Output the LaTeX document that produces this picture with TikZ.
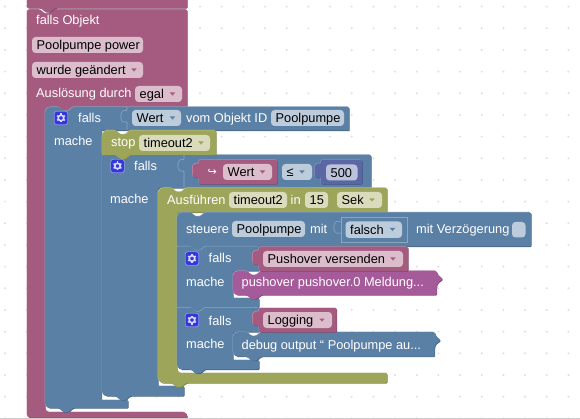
\documentclass[tikz,border=0pt]{standalone}
\usepackage{fontspec}
\setmainfont{Liberation Sans}
\newfontfamily\symfont{DejaVu Sans}
\definecolor{pk}{HTML}{A55B80}\definecolor{pkdk}{HTML}{7E4562}\definecolor{pklt}{HTML}{C58FAA}\definecolor{pkf}{HTML}{DBBDCC}
\definecolor{bl}{HTML}{5B80A5}\definecolor{bldk}{HTML}{466481}\definecolor{bllt}{HTML}{8DA6C0}\definecolor{blf}{HTML}{BDCCDB}
\definecolor{ol}{HTML}{9DA55B}\definecolor{oldk}{HTML}{7C8348}\definecolor{ollt}{HTML}{BDC28D}\definecolor{olf}{HTML}{DADBBD}
\definecolor{indg}{HTML}{5B67A5}\definecolor{indgdk}{HTML}{454F82}\definecolor{indglt}{HTML}{8D95C0}\definecolor{indgf}{HTML}{BDC2DB}
\definecolor{pu}{HTML}{A55B99}\definecolor{pudk}{HTML}{824779}\definecolor{pult}{HTML}{C28DB8}
\definecolor{dotc}{HTML}{DEDEDE}\definecolor{icon}{HTML}{3338D8}\definecolor{iconlt}{HTML}{8D95E8}
\tikzset{
  lbl/.style={inner sep=0pt,anchor=base west,font=\fontsize{12.8}{15}\selectfont,text=white},
  fldtext/.style={lbl,text=black},
  sockline/.style={draw=bllt,line width=.6pt,rounded corners=1pt},
}
% block with bevel: colour name, path
\newcommand\blk[2]{%
  \fill[#1dk,rounded corners=1.2pt,shift={(.7,.7)}] #2;
  \fill[#1lt,rounded corners=1.2pt,shift={(-.5,-.5)}] #2;
  \fill[#1,rounded corners=1.2pt] #2;}
\newcommand\nr{-- ++(4.5,4) -- ++(5,0) -- ++(4.5,-4)}
\newcommand\nl{-- ++(-4.5,4) -- ++(-5,0) -- ++(-4.5,-4)}
% value block with a tab on its left side: colour,x1,x2,y1,y2
\newcommand\vblk[5]{\blk{#1}{({#2},{#4}) -- ({#3},{#4}) -- ({#3},{#5}) -- ({#2},{#5}) -- ({#2},{#5-7}) -- ({#2-3},{#5-6}) -- ({#2-6.5},{#5-8}) -- ({#2-6.5},{#4+6}) -- ({#2-3},{#4+3}) -- ({#2},{#4+4}) -- cycle}}
% field: name,fill,x1,x2,y1,y2,text
\newcommand\fld[7]{\fill[#2,rounded corners=3.5pt] ({#3},{#5}) rectangle ({#4},{#6});
  \node[fldtext] (#1) at ({#3+4.5},{#6-3.2}) {#7};}
\newcommand\drop[3]{\fill[#3] ({#1-2.7},{#2-1.5}) -- ({#1+2.7},{#2-1.5}) -- ({#1},{#2+1.6}) -- cycle;}
\newcommand\wt[4]{\node[lbl] (#1) at (#2,#3) {#4};}
\newcommand\gear[2]{\fill[iconlt,rounded corners=3pt] ({#1-7.2},{#2-7.2}) rectangle ({#1+7.2},{#2+7.2});
  \fill[icon,rounded corners=2.6pt] ({#1-6.4},{#2-6.4}) rectangle ({#1+6.4},{#2+6.4});
  \draw[white!85!blue,line width=1.6pt] (#1,#2) circle (2.8);
  \foreach \a in {30,90,...,330}{\draw[white!85!blue,line width=1.5pt] ({#1+3*cos(\a)},{#2+3*sin(\a)}) -- ({#1+4.5*cos(\a)},{#2+4.5*sin(\a)});}}
\newcommand\sock[4]{\draw[sockline] (#1,#2) -- (#1,{#3}) -- ({#1-3},{#3-1}) -- ({#1-6},{#3+2}) -- ({#1-6},{#3+9}) -- ({#1-3},{#3+11.5}) -- (#1,{#3+10.5}) -- (#1,#4);}
\begin{document}
\begin{tikzpicture}[x=1pt,y=-1pt]
\clip (0,0) rectangle (580,419);
\fill[white] (0,0) rectangle (580,419);
\foreach \i in {0,...,26}{\foreach \j in {0,...,19}{\fill[dotc] ({5+21.67*\i},{6.6+21.67*\j}) circle (1.1);}}
% outer event block
\blk{pk}{(27,9.5) -- (40,9.5) \nr -- (187,9.5) [sharp corners] -- (187,113) -- (45,113) [rounded corners=4pt] -- (45,412) -- (187,412) [sharp corners] -- (187,417.5) [rounded corners=3pt] -- (27,417.5) -- cycle}
\blk{pk}{(27,-4) -- (187,-4) -- (187,8) -- (55,8) \nl -- (27,8) -- cycle}
\draw[black!20,line width=1pt] (0,418.2) -- (580,418.2);
% falls Wert
\blk{bl}{(45,120) [rounded corners=6pt] -- (45,107) [rounded corners=1.2pt] -- (59,107) \nr -- (349,107) [sharp corners] -- (349,130.5) -- (101.5,130.5) [rounded corners=1pt] -- (101.5,400) -- (128,400) -- (128,408) -- (73,408) \nl -- (50,408) [rounded corners=5pt] -- (45,408) -- cycle}
% falls <= 500
\blk{bl}{(102,155) -- (116,155) \nr -- (371,155) -- (371,188) -- (158,188) -- (158,386) -- (184,386) -- (184,396) -- (130,396) \nl -- (108,396) [rounded corners=5pt] -- (102,396) [rounded corners=1pt] -- cycle}
% stop
\blk{ol}{(102,140) [rounded corners=6pt] -- (102,130.5) [rounded corners=1.2pt] -- (116,130.5) \nr -- (216,130.5) -- (216,155) -- (130,155) \nl -- (102,155) -- cycle}
% Ausfuehren
\blk{ol}{(158,200) [rounded corners=6pt] -- (158,188) [rounded corners=1.2pt] -- (172,188) \nr -- (387,188) -- (387,212.5) -- (177,212.5) [rounded corners=4pt] -- (177,373) [rounded corners=1.2pt] -- (387,373) -- (387,383) -- (186,383) \nl -- (164,383) [rounded corners=6pt] -- (158,383) [rounded corners=1.2pt] -- cycle}
% steuere
\blk{bl}{(177,220) [rounded corners=5pt] -- (177,212.5) [rounded corners=1.2pt] -- (191,212.5) \nr -- (531,212.5) -- (531,246.5) -- (205,246.5) \nl -- (177,246.5) -- cycle}
% falls Pushover
\blk{bl}{(177,246.5) -- (191,246.5) \nr -- (259,246.5) -- (259,271) -- (233,271) -- (233,298) -- (259,298) -- (259,307.5) -- (205,307.5) \nl -- (177,307.5) -- cycle}
% falls Logging
\blk{bl}{(177,307.5) -- (191,307.5) \nr -- (259,307.5) -- (259,332) -- (233,332) -- (233,360) -- (259,360) -- (259,369.3) -- (205,369.3) \nl -- (182,369.3) [rounded corners=5pt] -- (177,369.3) [rounded corners=1.2pt] -- cycle}
% statements with right tab
\blk{pu}{(233,280) [rounded corners=5pt] -- (233,271) [rounded corners=1.2pt] -- (247,271) \nr -- (436.5,271) -- (437.5,274.5) -- (442.8,279) -- (437.5,283) -- (436.5,286) -- (436.5,295) -- (261,295) \nl -- (238,295) [rounded corners=5pt] -- (233,295) [rounded corners=1.2pt] -- cycle}
\blk{bl}{(233,340) [rounded corners=5pt] -- (233,332) [rounded corners=1.2pt] -- (247,332) \nr -- (434.5,332) -- (435.5,335.5) -- (440.5,340.5) -- (435.5,344) -- (434.5,347) -- (434.5,356.5) -- (261,356.5) \nl -- (238,356.5) [rounded corners=5pt] -- (233,356.5) [rounded corners=1.2pt] -- cycle}
% sockets
\sock{127}{107}{111}{130}
\sock{184}{155}{160}{188}
\draw[sockline,sharp corners] (341,217.5) rectangle (407,242.7);
\draw[sockline] (341,222) -- (337,221) -- (334,223.5) -- (334,231) -- (337,233.5) -- (341,233);
% value blocks
\vblk{pk}{199}{277}{160}{184}
\vblk{indg}{321}{362}{160}{184}
\vblk{pk}{259}{408}{247}{271}
\vblk{pk}{259}{336.5}{308}{332}
% icons
\gear{61}{118}
\gear{117.5}{166}
\gear{192}{258.5}
\gear{192}{320}
% texts on blocks
\wt{t1}{36}{25}{falls Objekt}
\wt{t2}{36}{98}{Auslösung durch}
\wt{t3}{78}{123}{falls}
\wt{t4}{54}{146}{mache}
\wt{t5}{186}{123}{vom Objekt ID}
\wt{t6}{111}{147}{stop}
\wt{t7}{134}{171}{falls}
\wt{t8}{110}{204}{mache}
\wt{t9}{167}{205}{Ausführen}
\wt{t10}{290.5}{205}{in}
\wt{t11}{186}{234}{steuere}
\wt{t12}{310}{234}{mit}
\wt{t13}{416}{234}{mit Verzögerung}
\wt{t14}{208.5}{263}{falls}
\wt{t15}{186}{287}{mache}
\wt{t16}{241.5}{287}{pushover pushover.0 Meldung...}
\wt{t17}{208.5}{325}{falls}
\wt{t18}{186}{348}{mache}
\wt{t19}{241.5}{349}{debug output “ Poolpumpe au...}
\node[lbl,font=\symfont\fontsize{11}{13}\selectfont] (t20) at (207.5,176) {↪};
% fields
\fld{f1}{pkf}{32}{143}{37}{53}{Poolpumpe power}
\fld{f2}{pkf}{32}{143}{62}{78}{wurde geändert}
\drop{134}{70}{pk}
\fld{f3}{pkf}{135}{182}{86}{102}{egal}
\drop{172.5}{94}{pk}
\fld{f4}{blf}{132}{181}{110}{126}{Wert}
\drop{172.5}{118}{bl}
\fld{f5}{blf}{271}{344}{110}{126}{Poolpumpe}
\fld{f6}{olf}{139}{210}{135}{151}{timeout2}
\drop{201}{143}{ol}
\fld{f7}{pkf}{223}{272}{164}{180}{Wert}
\drop{262.5}{172}{pk}
\fld{f8}{blf}{282}{312}{164}{180}{≤}
\drop{302}{172}{bl}
\fld{f9}{indgf}{326}{357.5}{164.5}{180.5}{500}
\fld{f10}{olf}{229}{287}{192}{208}{timeout2}
\fld{f11}{olf}{305}{328}{192}{208}{15}
\fld{f12}{olf}{337}{382}{192}{208}{Sek}
\drop{372}{200}{ol}
\fld{f13}{blf}{232}{305}{221}{237}{Poolpumpe}
\fld{f14}{blf}{345.5}{402}{221.5}{238}{falsch}
\drop{392.5}{229.5}{bl}
\fill[blf,rounded corners=3.5pt] (512,222) rectangle (525.5,237.5);
\fld{f15}{pkf}{263}{403}{251}{267}{Pushover versenden}
\drop{393}{259}{pk}
\fld{f16}{pkf}{263}{332}{312}{328}{Logging}
\drop{322}{320}{pk}
\end{tikzpicture}
\end{document}
